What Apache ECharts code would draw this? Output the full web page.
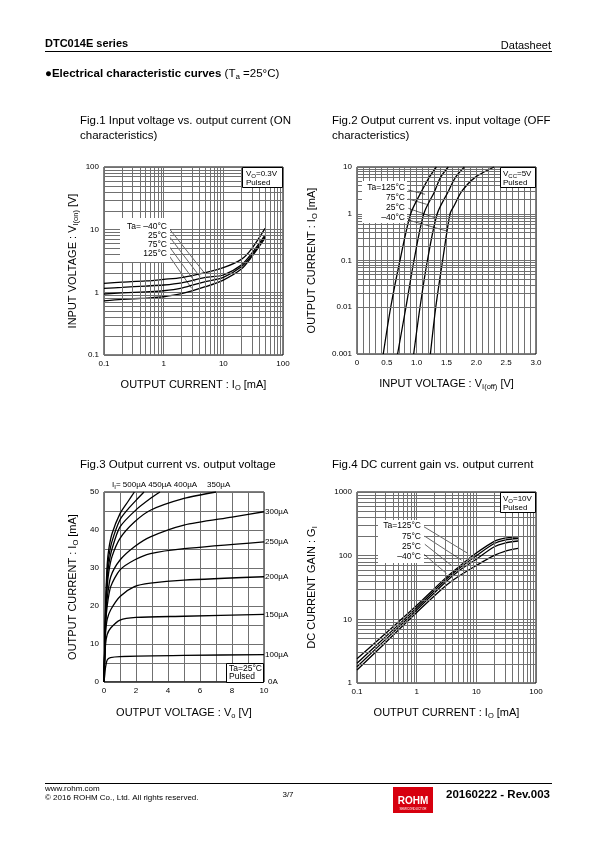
<!DOCTYPE html>
<html><head><meta charset="utf-8">
<script src="https://cdn.jsdelivr.net/npm/echarts@6/dist/echarts.min.js"></script>
<style>html,body{margin:0;padding:0;background:#fff}#c{width:595px;height:842px}</style>
</head><body><div id="c"></div>
<script>
// ---------- DATA ----------
// Fig.1 Input voltage (ON) vs output current
const fig1Current = [0.1, 0.2, 0.5, 1, 2, 5, 10, 20, 30, 50];
const fig1VinM40 = [1.39, 1.45, 1.52, 1.61, 1.72, 2.06, 2.47, 3.36, 5.0, 10.5];
const fig1Vin25  = [1.16, 1.20, 1.26, 1.31, 1.42, 1.73, 1.89, 2.72, 4.2, 8.2];
const fig1Vin75  = [0.94, 0.98, 1.02, 1.06, 1.17, 1.48, 1.73, 2.56, 3.9, 7.7];
const fig1Vin125 = [0.73, 0.77, 0.81, 0.85, 0.95, 1.23, 1.57, 2.35, 3.7, 7.3];
const fig1Temps = ['–40°C', '25°C', '75°C', '125°C'];
// leader lines (start, end) in data units
const fig1Leaders = [[[1.19, 10.9], [4.9, 2.0]], [[1.19, 8.2], [4.06, 1.77]], [[1.19, 5.67], [3.34, 1.48]], [[1.19, 4.03], [2.94, 1.16]]];

// Fig.2 Output current vs input voltage (OFF)
const fig2Current = [0.001, 0.01, 0.1, 1, 3, 6, 10];
const fig2V125 = [0.44, 0.565, 0.72, 0.90, 1.08, 1.21, 1.33];
const fig2V75  = [0.68, 0.82, 0.955, 1.12, 1.30, 1.40, 1.53];
const fig2V25  = [0.95, 1.056, 1.18, 1.345, 1.53, 1.65, 1.80];
const fig2CurrentM40 = [0.001, 0.01, 0.1, 1, 1.5, 3, 6, 10];
const fig2VM40 = [1.23, 1.32, 1.435, 1.56, 1.63, 1.755, 1.98, 2.30];
const fig2Leaders = [[[0.86, 3.22], [1.14, 2.61]], [[0.86, 2.07], [1.168, 1.59]], [[0.86, 1.31], [1.307, 0.82]], [[0.86, 0.735], [1.503, 0.428]]];

// Fig.3 Output current vs output voltage  ([Vo, Io])
const ib500 = [[0,0],[0.1,20],[0.2,31],[0.3,35],[0.5,39],[1,44.3],[1.5,47.5],[1.9,50]];
const ib450 = [[0,0],[0.1,19],[0.2,29],[0.3,33],[0.5,37],[1,42.7],[1.5,45.5],[2,47.8],[2.5,50]];
const ib400 = [[0,0],[0.1,18],[0.2,27],[0.3,31],[0.5,35],[1,40.8],[2,45.3],[3,48.6],[3.5,50]];
const ib350 = [[0,0],[0.1,17],[0.2,25],[0.3,29],[0.5,33],[1,37.8],[1.9,42.1],[2.9,45.2],[5,48.3],[7,50]];
const ib300 = [[0,0],[0.1,16],[0.2,22],[0.42,27.7],[1,32.1],[1.9,35.6],[2.9,38.2],[5,41.3],[8,43.4],[10,44.8]];
const ib250 = [[0,0],[0.1,15],[0.2,20],[0.42,25.1],[1,29.5],[1.9,32.1],[2.9,33.8],[5,35.1],[10,36.9]];
const ib200 = [[0,0],[0.05,8],[0.1,13],[0.2,16.5],[0.42,19],[1,22.5],[1.9,25.1],[2.9,26],[5,26.8],[10,27.7]];
const ib150 = [[0,0],[0.05,6],[0.1,10],[0.2,12.5],[0.42,14.2],[1,16.3],[2,17],[5,17.3],[10,17.8]];
const ib100 = [[0,0],[0.05,2],[0.1,4],[0.2,5.8],[0.4,6.4],[1,6.7],[5,7],[10,7.2]];
const ib0   = [[0,0],[10,0]];

// Fig.4 DC current gain vs output current
const fig4Current = [0.1, 0.3, 1, 3, 5, 10, 20, 30, 50];
const fig4G125 = [2.4, 6.0, 16.5, 44, 66, 110, 168, 188, 197];
const fig4G75  = [2.05, 5.3, 15.2, 41, 62, 100, 155, 176, 186];
const fig4G25  = [1.8, 4.8, 14.0, 38, 57, 88, 138, 158, 170];
const fig4GM40 = [1.6, 4.3, 12.8, 33, 47, 70, 101, 117, 130];
const fig4Leaders = [[[1.28, 290], [7.28, 108]], [[1.37, 202], [5.65, 85]], [[1.37, 151], [4.08, 67]], [[1.28, 108], [3.16, 52.6]]];

// ---------- STYLE / BUILD ----------
const FONT = '"Liberation Sans", Arial, Helvetica, sans-serif';
const GRID = '#707070';
const chart = echarts.init(document.getElementById('c'), null, {renderer: 'canvas'});

function minorLog(min, max) {
  const out = [];
  for (let e = Math.round(Math.log10(min)); e < Math.round(Math.log10(max)); e++) {
    const b = Math.pow(10, e);
    for (let k = 2; k <= 9; k++) out.push(+(k * b).toPrecision(4));
  }
  return out;
}
const numFmt = v => String(+(+v).toPrecision(6));
const subRich = {s: {fontSize: 7.5, lineHeight: 7, verticalAlign: 'bottom', fontFamily: FONT, color: '#000'}};

function axis(o) {
  return Object.assign({
    axisLine: {show: false}, axisTick: {show: false},
    axisLabel: {color: '#000', fontSize: 8, fontFamily: FONT, margin: 5, formatter: numFmt},
    splitLine: {show: true, lineStyle: {color: GRID, width: 1}},
    minorSplitLine: {show: false, lineStyle: {color: GRID, width: 1}},
    nameLocation: 'middle',
    nameTextStyle: {color: '#000', fontSize: 11, fontFamily: FONT, lineHeight: 14, rich: subRich}
  }, o);
}
function gridHelper(i, xs, ys) {
  return {type: 'line', xAxisIndex: i, yAxisIndex: i, data: [], silent: true, z: 1,
    markLine: {silent: true, symbol: 'none', animation: false, label: {show: false}, emphasis: {disabled: true},
      lineStyle: {color: GRID, width: 1, type: 'solid'},
      data: [...xs.map(v => ({xAxis: v})), ...ys.map(v => ({yAxis: v}))]}};
}
function curve(i, name, data, smooth, extra) {
  return Object.assign({type: 'line', name, xAxisIndex: i, yAxisIndex: i, data, smooth: smooth,
    showSymbol: false, symbol: 'none', silent: true, z: 3,
    lineStyle: {color: '#000', width: 1.3}}, extra || {});
}
function leader(i, pts) {
  return {type: 'line', xAxisIndex: i, yAxisIndex: i, data: pts, showSymbol: false, symbol: 'none',
    silent: true, z: 4, lineStyle: {color: '#000', width: 0.6}};
}
const zip = (xs, ys) => xs.map((x, k) => [x, ys[k]]);

function T(x, y, text, size, o) {
  return {type: 'text', x, y, z: 100, silent: true,
    style: Object.assign({text, fill: '#000', fontSize: size, fontFamily: FONT, align: 'left', verticalAlign: 'middle',
      lineHeight: size + 3,
      rich: {s: {fontSize: Math.round(size * 0.7), lineHeight: Math.round(size * 0.7), verticalAlign: 'bottom', fontFamily: FONT, fill: '#000'},
             b: {fontWeight: 'bold', fontSize: size, fontFamily: FONT, fill: '#000'}}}, o || {})};
}
function R(x, y, w, h, stroke) {
  return {type: 'rect', z: 95, silent: true, shape: {x, y, width: w, height: h},
    style: {fill: '#fff', stroke: stroke ? '#000' : null, lineWidth: stroke ? 1 : 0}};
}

const series = [];
// Fig1
series.push(gridHelper(0, minorLog(0.1, 100), minorLog(0.1, 100)));
[fig1VinM40, fig1Vin25, fig1Vin75, fig1Vin125].forEach((a, k) => series.push(curve(0, fig1Temps[k], zip(fig1Current, a), 0.3)));
fig1Leaders.forEach(p => series.push(leader(0, p)));
// Fig2
series.push(gridHelper(1, [], minorLog(0.001, 10)));
series.push(curve(1, '125°C', zip(fig2V125, fig2Current), 0.3));
series.push(curve(1, '75°C', zip(fig2V75, fig2Current), 0.3));
series.push(curve(1, '25°C', zip(fig2V25, fig2Current), 0.3));
series.push(curve(1, '–40°C', zip(fig2VM40, fig2CurrentM40), 0.3));
fig2Leaders.forEach(p => series.push(leader(1, p)));
// Fig3
const endLbl = {show: true, formatter: '{a}', color: '#000', fontSize: 8, fontFamily: FONT, distance: 1};
[['500µA', ib500], ['450µA', ib450], ['400µA', ib400], ['350µA', ib350]].forEach(([n, d]) =>
  series.push(curve(2, n, d, 0.25)));
[['300µA', ib300], ['250µA', ib250], ['200µA', ib200], ['150µA', ib150], ['100µA', ib100]].forEach(([n, d]) =>
  series.push(curve(2, n, d, 0.25, {endLabel: endLbl})));
series.push(curve(2, '0A', ib0, false, {endLabel: Object.assign({}, endLbl, {offset: [3, 0]}), lineStyle: {color: '#000', width: 1}}));
// Fig4
series.push(gridHelper(3, minorLog(0.1, 100), minorLog(1, 1000)));
[fig4G125, fig4G75, fig4G25, fig4GM40].forEach((a, k) => series.push(curve(3, ['125°C', '75°C', '25°C', '–40°C'][k], zip(fig4Current, a), 0.3)));
fig4Leaders.forEach(p => series.push(leader(3, p)));

const gridBase = {show: true, borderColor: '#000', borderWidth: 1, backgroundColor: 'transparent', containLabel: false};

const option = {
  animation: false,
  backgroundColor: '#fff',
  textStyle: {fontFamily: FONT},
  grid: [
    Object.assign({left: 104, top: 167, width: 179, height: 188}, gridBase),
    Object.assign({left: 357, top: 167, width: 179, height: 187}, gridBase),
    Object.assign({left: 104, top: 492, width: 160, height: 190}, gridBase),
    Object.assign({left: 357, top: 492, width: 179, height: 191}, gridBase)
  ],
  xAxis: [
    axis({gridIndex: 0, type: 'log', logBase: 10, min: 0.1, max: 100, name: 'OUTPUT CURRENT : I{s|O} [mA]', nameGap: 23}),
    axis({gridIndex: 1, type: 'value', min: 0, max: 3, interval: 0.5, name: 'INPUT VOLTAGE : V{s|I(off)} [V]', nameGap: 23,
      axisLabel: {color: '#000', fontSize: 8, fontFamily: FONT, margin: 5, formatter: v => v === 0 ? '0' : (+v).toFixed(1)},
      minorTick: {show: false, splitNumber: 5}, minorSplitLine: {show: true, lineStyle: {color: GRID, width: 1}}}),
    axis({gridIndex: 2, type: 'value', min: 0, max: 10, interval: 2, name: 'OUTPUT VOLTAGE : V{s|o} [V]', nameGap: 24,
      minorTick: {show: false, splitNumber: 2}, minorSplitLine: {show: true, lineStyle: {color: GRID, width: 1}}}),
    axis({gridIndex: 3, type: 'log', logBase: 10, min: 0.1, max: 100, name: 'OUTPUT CURRENT : I{s|O} [mA]', nameGap: 23})
  ],
  yAxis: [
    axis({gridIndex: 0, type: 'log', logBase: 10, min: 0.1, max: 100, name: 'INPUT VOLTAGE : V{s|I(on)} [V]', nameGap: 24}),
    axis({gridIndex: 1, type: 'log', logBase: 10, min: 0.001, max: 10, name: 'OUTPUT CURRENT : I{s|O} [mA]', nameGap: 38}),
    axis({gridIndex: 2, type: 'value', min: 0, max: 50, interval: 10, name: 'OUTPUT CURRENT : I{s|O} [mA]', nameGap: 24,
      minorTick: {show: false, splitNumber: 2}, minorSplitLine: {show: true, lineStyle: {color: GRID, width: 1}}}),
    axis({gridIndex: 3, type: 'log', logBase: 10, min: 1, max: 1000, name: 'DC CURRENT GAIN : G{s|I}', nameGap: 38})
  ],
  series,
  graphic: {elements: [
    // header
    T(45, 44, 'DTC014E series', 11, {fontWeight: 'bold'}),
    T(551, 46, 'Datasheet', 11, {align: 'right'}),
    {type: 'line', z: 100, silent: true, shape: {x1: 45, y1: 51.5, x2: 552, y2: 51.5}, style: {stroke: '#000', lineWidth: 1}},
    T(45, 74, '{b|●Electrical characteristic curves} (T{s|a} =25°C)', 11.5),
    // figure titles
    T(80, 121, 'Fig.1 Input voltage vs. output current (ON', 11.5),
    T(80, 136, 'characteristics)', 11.5),
    T(332, 121, 'Fig.2 Output current vs. input voltage (OFF', 11.5),
    T(332, 136, 'characteristics)', 11.5),
    T(80, 465, 'Fig.3 Output current vs. output voltage', 11.5),
    T(332, 465, 'Fig.4 DC current gain vs. output current', 11.5),
    // fig1 annotations
    R(242.5, 167.5, 40, 20, true),
    T(246, 174, 'V{s|O}=0.3V', 8),
    T(246, 183, 'Pulsed', 8),
    R(120, 218, 50, 44, false),
    T(167, 227, 'Ta= –40°C', 8.5, {align: 'right'}),
    T(167, 236, '25°C', 8.5, {align: 'right'}),
    T(167, 245, '75°C', 8.5, {align: 'right'}),
    T(167, 254, '125°C', 8.5, {align: 'right'}),
    // fig2 annotations
    R(500.5, 167.5, 35, 20, true),
    T(503, 174, 'V{s|CC}=5V', 8),
    T(503, 183, 'Pulsed', 8),
    R(362, 181, 45, 42, false),
    T(405, 188, 'Ta=125°C', 8.5, {align: 'right'}),
    T(405, 198, '75°C', 8.5, {align: 'right'}),
    T(405, 207.5, '25°C', 8.5, {align: 'right'}),
    T(405, 217.5, '–40°C', 8.5, {align: 'right'}),
    // fig3 annotations
    T(112, 485, 'I{s|I}= 500µA 450µA 400µA', 8),
    T(207, 485, '350µA', 8),
    R(226.5, 663.5, 37, 19, true),
    T(229, 669, 'Ta=25°C', 8.5),
    T(229, 677, 'Pulsed', 8.5),
    // fig4 annotations
    R(500.5, 492.5, 35, 20, true),
    T(503, 499, 'V{s|O}=10V', 8),
    T(503, 507.5, 'Pulsed', 8),
    R(378, 520, 46, 43, false),
    T(421, 526, 'Ta=125°C', 8.5, {align: 'right'}),
    T(421, 536.5, '75°C', 8.5, {align: 'right'}),
    T(421, 546.5, '25°C', 8.5, {align: 'right'}),
    T(421, 556.5, '–40°C', 8.5, {align: 'right'}),
    // footer
    {type: 'line', z: 100, silent: true, shape: {x1: 45, y1: 783.5, x2: 552, y2: 783.5}, style: {stroke: '#000', lineWidth: 1}},
    T(45, 789, 'www.rohm.com', 8),
    T(45, 798, '© 2016 ROHM Co., Ltd. All rights reserved.', 8),
    T(288, 795, '3/7', 8, {align: 'center'}),
    {type: 'rect', z: 100, silent: true, shape: {x: 393, y: 787, width: 40, height: 26}, style: {fill: '#d7000f'}},
    T(413, 801, 'ROHM', 10, {align: 'center', fill: '#fff', fontWeight: 'bold'}),
    T(413, 809.5, 'SEMICONDUCTOR', 3, {align: 'center', fill: '#fff'}),
    T(550, 795, '20160222 - Rev.003', 11.5, {align: 'right', fontWeight: 'bold'})
  ]}
};
chart.setOption(option);
</script></body></html>
